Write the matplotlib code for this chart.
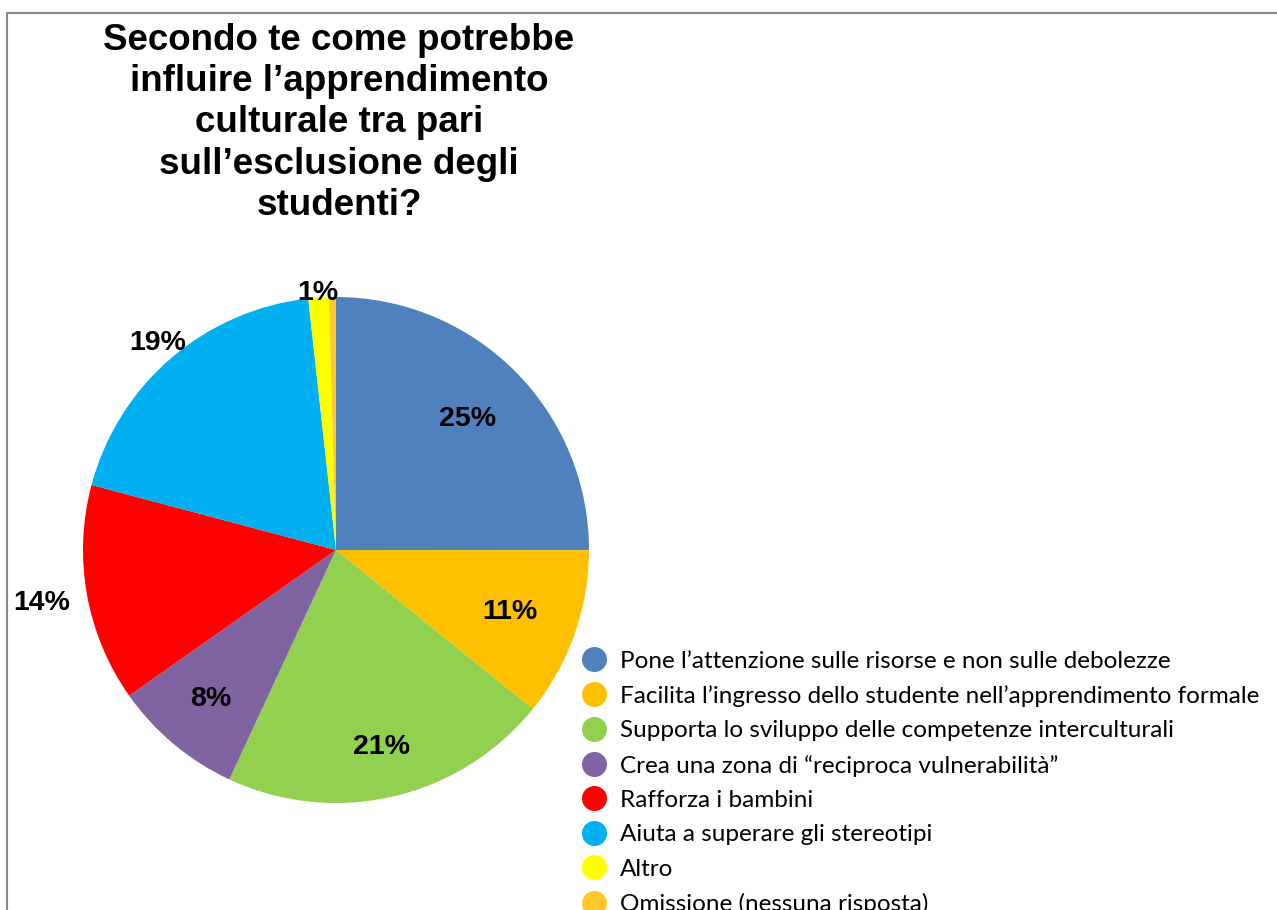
import numpy as np
import matplotlib
matplotlib.use("Agg")
import matplotlib.pyplot as plt
from matplotlib.lines import Line2D
from matplotlib.patches import Rectangle

title = ("Secondo te come potrebbe\ninfluire l\u2019apprendimento\nculturale tra pari\n"
         "sull\u2019esclusione degli\nstudenti?")
categories = [
    "Pone l\u2019attenzione sulle risorse e non sulle debolezze",
    "Facilita l\u2019ingresso dello studente nell\u2019apprendimento formale",
    "Supporta lo sviluppo delle competenze interculturali",
    "Crea una zona di \u201creciproca vulnerabilit\u00e0\u201d",
    "Rafforza i bambini",
    "Aiuta a superare gli stereotipi",
    "Altro",
    "Omissione (nessuna risposta)",
]
values = [25.0, 10.8, 21.1, 8.3, 13.9, 19.1, 1.3, 0.45]
shown = [True, True, True, True, True, True, True, False]
colors = ["#4F81BD", "#FFC000", "#92D050", "#8064A2", "#FF0000",
          "#00B0F0", "#FFFF00", "#FFC72C"]
label_radius = [0.735, 0.73, 0.8, 0.77, 1.18, 1.08, 1.02, 1.0]

W, H = 1277, 910
fig = plt.figure(figsize=(W / 100, H / 100), dpi=100)

# grey frame, cut by the right and bottom edges
fig.add_artist(Rectangle((7 / W, -0.1), 1.2, (H - 13) / H + 0.1,
                         transform=fig.transFigure, fill=False,
                         edgecolor="#888888", lw=1.5))

cx, cy, r = 336, 550, 253
ax = fig.add_axes([(cx - r) / W, (H - cy - r) / H, 2 * r / W, 2 * r / H])
wedges, _, autotexts = ax.pie(values, colors=colors, startangle=90,
                              counterclock=False, autopct="%.0f%%",
                              wedgeprops=dict(linewidth=0))
ax.set_xlim(-1, 1)
ax.set_ylim(-1, 1)
ax.set_aspect("equal")
ax.axis("off")

for w, t, rr, s in zip(wedges, autotexts, label_radius, shown):
    ang = np.deg2rad((w.theta1 + w.theta2) / 2)
    t.set_position((rr * np.cos(ang), rr * np.sin(ang)))
    t.set_fontfamily("Liberation Sans")
    t.set_fontweight("bold")
    t.set_fontsize(20.5)
    t.set_clip_on(False)
    if not s:
        t.set_visible(False)

fig.text(339 / W, 1 - 123 / H, title, ha="center", va="center",
         family="Liberation Sans", fontweight="bold", fontsize=26.5,
         linespacing=1.24)

handles = [Line2D([], [], marker="o", ls="none", markersize=17,
                  markerfacecolor=c, markeredgecolor=c) for c in colors]
fig.legend(handles, categories, loc="upper left",
           bbox_to_anchor=(572 / W, 1 - 641 / H), frameon=False,
           prop=dict(family="Lato", size=17.5), handletextpad=0.58,
           handlelength=1.0, labelspacing=0.55, borderaxespad=0)

fig.savefig("out.png", dpi=100)
